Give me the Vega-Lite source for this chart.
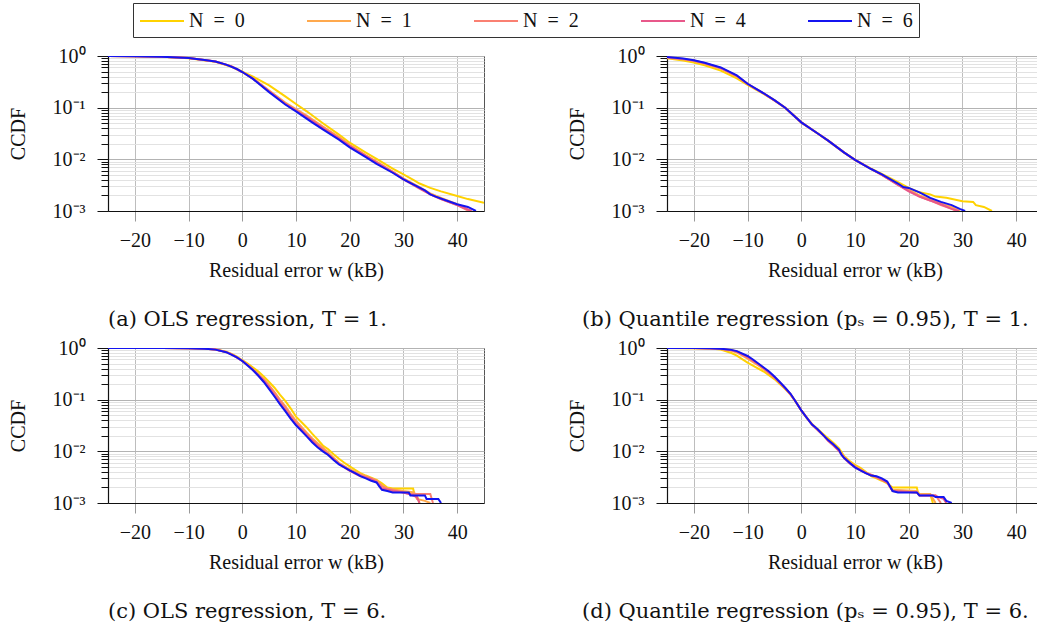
{
  "$schema": "https://vega.github.io/schema/vega-lite/v6.json",
  "padding": {"left": 7, "top": 2, "right": 0, "bottom": 0},
  "config": {
    "font": "Liberation Serif",
    "view": {"stroke": "#555", "strokeWidth": 1},
    "axis": {"labelFont": "Liberation Serif", "titleFont": "Liberation Serif", "labelColor": "#111", "titleColor": "#111"},
    "title": {"font": "DejaVu Serif", "fontSize": 21, "fontWeight": "normal", "color": "#111"}
  },
  "datasets": {
    "a": [
      {"N":"N = 0","x":-25,"y":0.998},{"N":"N = 0","x":-20,"y":0.99},{"N":"N = 0","x":-15,"y":0.965},{"N":"N = 0","x":-10,"y":0.9},{"N":"N = 0","x":-5,"y":0.77},{"N":"N = 0","x":-2,"y":0.62},{"N":"N = 0","x":0,"y":0.5},{"N":"N = 0","x":2,"y":0.4},{"N":"N = 0","x":5,"y":0.27},{"N":"N = 0","x":8,"y":0.165},{"N":"N = 0","x":10,"y":0.118},{"N":"N = 0","x":12,"y":0.085},{"N":"N = 0","x":15,"y":0.05},{"N":"N = 0","x":18,"y":0.03},{"N":"N = 0","x":20,"y":0.021},{"N":"N = 0","x":23,"y":0.0135},{"N":"N = 0","x":25,"y":0.0102},{"N":"N = 0","x":28,"y":0.0066},{"N":"N = 0","x":30,"y":0.0051},{"N":"N = 0","x":32,"y":0.0039},{"N":"N = 0","x":33,"y":0.0034},{"N":"N = 0","x":35,"y":0.0028},{"N":"N = 0","x":37,"y":0.0024},{"N":"N = 0","x":40,"y":0.00195},{"N":"N = 0","x":42,"y":0.0017},{"N":"N = 0","x":45,"y":0.00145},
      {"N":"N = 1","x":-25,"y":0.998},{"N":"N = 1","x":-20,"y":0.99},{"N":"N = 1","x":-15,"y":0.97},{"N":"N = 1","x":-10,"y":0.91},{"N":"N = 1","x":-5,"y":0.78},{"N":"N = 1","x":-2,"y":0.63},{"N":"N = 1","x":0,"y":0.49},{"N":"N = 1","x":2,"y":0.37},{"N":"N = 1","x":5,"y":0.215},{"N":"N = 1","x":8,"y":0.125},{"N":"N = 1","x":10,"y":0.094},{"N":"N = 1","x":12,"y":0.07},{"N":"N = 1","x":15,"y":0.043},{"N":"N = 1","x":18,"y":0.027},{"N":"N = 1","x":20,"y":0.019},{"N":"N = 1","x":23,"y":0.012},{"N":"N = 1","x":25,"y":0.009},{"N":"N = 1","x":28,"y":0.0058},{"N":"N = 1","x":30,"y":0.0043},{"N":"N = 1","x":33,"y":0.0029},{"N":"N = 1","x":35,"y":0.0022},{"N":"N = 1","x":37,"y":0.0018},{"N":"N = 1","x":40,"y":0.00135},{"N":"N = 1","x":42.5,"y":0.001},
      {"N":"N = 2","x":-25,"y":0.998},{"N":"N = 2","x":-20,"y":0.99},{"N":"N = 2","x":-15,"y":0.97},{"N":"N = 2","x":-10,"y":0.91},{"N":"N = 2","x":-5,"y":0.78},{"N":"N = 2","x":-2,"y":0.63},{"N":"N = 2","x":0,"y":0.49},{"N":"N = 2","x":2,"y":0.365},{"N":"N = 2","x":5,"y":0.21},{"N":"N = 2","x":8,"y":0.12},{"N":"N = 2","x":10,"y":0.09},{"N":"N = 2","x":12,"y":0.067},{"N":"N = 2","x":15,"y":0.042},{"N":"N = 2","x":18,"y":0.026},{"N":"N = 2","x":20,"y":0.0185},{"N":"N = 2","x":23,"y":0.0118},{"N":"N = 2","x":25,"y":0.0088},{"N":"N = 2","x":28,"y":0.0057},{"N":"N = 2","x":30,"y":0.0042},{"N":"N = 2","x":33,"y":0.0028},{"N":"N = 2","x":35,"y":0.0021},{"N":"N = 2","x":37,"y":0.0017},{"N":"N = 2","x":40,"y":0.0013},{"N":"N = 2","x":42.2,"y":0.001},
      {"N":"N = 4","x":-25,"y":0.998},{"N":"N = 4","x":-20,"y":0.99},{"N":"N = 4","x":-15,"y":0.97},{"N":"N = 4","x":-10,"y":0.91},{"N":"N = 4","x":-5,"y":0.78},{"N":"N = 4","x":-2,"y":0.63},{"N":"N = 4","x":0,"y":0.49},{"N":"N = 4","x":2,"y":0.362},{"N":"N = 4","x":5,"y":0.205},{"N":"N = 4","x":8,"y":0.118},{"N":"N = 4","x":10,"y":0.088},{"N":"N = 4","x":12,"y":0.065},{"N":"N = 4","x":15,"y":0.04},{"N":"N = 4","x":18,"y":0.025},{"N":"N = 4","x":20,"y":0.018},{"N":"N = 4","x":23,"y":0.0115},{"N":"N = 4","x":25,"y":0.0086},{"N":"N = 4","x":28,"y":0.0056},{"N":"N = 4","x":30,"y":0.0041},{"N":"N = 4","x":33,"y":0.0027},{"N":"N = 4","x":35,"y":0.0021},{"N":"N = 4","x":37,"y":0.0017},{"N":"N = 4","x":40,"y":0.0013},{"N":"N = 4","x":42.7,"y":0.001},
      {"N":"N = 6","x":-25,"y":0.998},{"N":"N = 6","x":-20,"y":0.99},{"N":"N = 6","x":-15,"y":0.97},{"N":"N = 6","x":-10,"y":0.91},{"N":"N = 6","x":-7,"y":0.84},{"N":"N = 6","x":-5,"y":0.78},{"N":"N = 6","x":-3,"y":0.68},{"N":"N = 6","x":-1,"y":0.56},{"N":"N = 6","x":0,"y":0.49},{"N":"N = 6","x":2,"y":0.36},{"N":"N = 6","x":5,"y":0.2},{"N":"N = 6","x":8,"y":0.115},{"N":"N = 6","x":10,"y":0.085},{"N":"N = 6","x":13,"y":0.052},{"N":"N = 6","x":15,"y":0.038},{"N":"N = 6","x":18,"y":0.024},{"N":"N = 6","x":20,"y":0.017},{"N":"N = 6","x":23,"y":0.011},{"N":"N = 6","x":25,"y":0.0082},{"N":"N = 6","x":28,"y":0.0055},{"N":"N = 6","x":30,"y":0.0041},{"N":"N = 6","x":32,"y":0.0032},{"N":"N = 6","x":34,"y":0.0025},{"N":"N = 6","x":35,"y":0.0021},{"N":"N = 6","x":36,"y":0.0019},{"N":"N = 6","x":38,"y":0.0016},{"N":"N = 6","x":40,"y":0.00135},{"N":"N = 6","x":42,"y":0.0012},{"N":"N = 6","x":43.5,"y":0.001}
    ],
    "b": [
      {"N":"N = 0","x":-25,"y":0.9},{"N":"N = 0","x":-22,"y":0.82},{"N":"N = 0","x":-20,"y":0.75},{"N":"N = 0","x":-18,"y":0.66},{"N":"N = 0","x":-15,"y":0.52},{"N":"N = 0","x":-12,"y":0.37},{"N":"N = 0","x":-10,"y":0.275},{"N":"N = 0","x":-7,"y":0.185},{"N":"N = 0","x":-5,"y":0.138},{"N":"N = 0","x":-3,"y":0.1},{"N":"N = 0","x":0,"y":0.052},{"N":"N = 0","x":3,"y":0.032},{"N":"N = 0","x":5,"y":0.023},{"N":"N = 0","x":8,"y":0.0135},{"N":"N = 0","x":10,"y":0.0098},{"N":"N = 0","x":13,"y":0.0066},{"N":"N = 0","x":15,"y":0.0052},{"N":"N = 0","x":18,"y":0.0036},{"N":"N = 0","x":20,"y":0.0028},{"N":"N = 0","x":22,"y":0.0023},{"N":"N = 0","x":24,"y":0.0021},{"N":"N = 0","x":25,"y":0.0019},{"N":"N = 0","x":27,"y":0.0018},{"N":"N = 0","x":30,"y":0.00155},{"N":"N = 0","x":32,"y":0.0015},{"N":"N = 0","x":32.5,"y":0.0013},{"N":"N = 0","x":34,"y":0.0012},{"N":"N = 0","x":35.5,"y":0.001},
      {"N":"N = 1","x":-25,"y":0.93},{"N":"N = 1","x":-22,"y":0.86},{"N":"N = 1","x":-20,"y":0.8},{"N":"N = 1","x":-18,"y":0.71},{"N":"N = 1","x":-15,"y":0.57},{"N":"N = 1","x":-12,"y":0.4},{"N":"N = 1","x":-10,"y":0.285},{"N":"N = 1","x":-7,"y":0.187},{"N":"N = 1","x":-5,"y":0.138},{"N":"N = 1","x":-3,"y":0.1},{"N":"N = 1","x":0,"y":0.052},{"N":"N = 1","x":3,"y":0.032},{"N":"N = 1","x":5,"y":0.023},{"N":"N = 1","x":8,"y":0.0135},{"N":"N = 1","x":10,"y":0.0098},{"N":"N = 1","x":13,"y":0.0065},{"N":"N = 1","x":15,"y":0.005},{"N":"N = 1","x":18,"y":0.0033},{"N":"N = 1","x":20,"y":0.0026},{"N":"N = 1","x":22,"y":0.002},{"N":"N = 1","x":24,"y":0.0017},{"N":"N = 1","x":26,"y":0.0014},{"N":"N = 1","x":28,"y":0.0012},{"N":"N = 1","x":29.5,"y":0.001},
      {"N":"N = 2","x":-25,"y":0.94},{"N":"N = 2","x":-22,"y":0.87},{"N":"N = 2","x":-20,"y":0.81},{"N":"N = 2","x":-18,"y":0.72},{"N":"N = 2","x":-15,"y":0.58},{"N":"N = 2","x":-12,"y":0.41},{"N":"N = 2","x":-10,"y":0.287},{"N":"N = 2","x":-7,"y":0.188},{"N":"N = 2","x":-5,"y":0.138},{"N":"N = 2","x":-3,"y":0.1},{"N":"N = 2","x":0,"y":0.052},{"N":"N = 2","x":3,"y":0.032},{"N":"N = 2","x":5,"y":0.023},{"N":"N = 2","x":8,"y":0.0135},{"N":"N = 2","x":10,"y":0.0098},{"N":"N = 2","x":13,"y":0.0065},{"N":"N = 2","x":15,"y":0.005},{"N":"N = 2","x":18,"y":0.0032},{"N":"N = 2","x":20,"y":0.0025},{"N":"N = 2","x":22,"y":0.0019},{"N":"N = 2","x":24,"y":0.0016},{"N":"N = 2","x":26,"y":0.0013},{"N":"N = 2","x":28,"y":0.0011},{"N":"N = 2","x":29,"y":0.001},
      {"N":"N = 4","x":-25,"y":0.95},{"N":"N = 4","x":-22,"y":0.88},{"N":"N = 4","x":-20,"y":0.82},{"N":"N = 4","x":-18,"y":0.73},{"N":"N = 4","x":-15,"y":0.59},{"N":"N = 4","x":-12,"y":0.415},{"N":"N = 4","x":-10,"y":0.29},{"N":"N = 4","x":-7,"y":0.189},{"N":"N = 4","x":-5,"y":0.138},{"N":"N = 4","x":-3,"y":0.1},{"N":"N = 4","x":0,"y":0.052},{"N":"N = 4","x":3,"y":0.032},{"N":"N = 4","x":5,"y":0.023},{"N":"N = 4","x":8,"y":0.0135},{"N":"N = 4","x":10,"y":0.0098},{"N":"N = 4","x":13,"y":0.0065},{"N":"N = 4","x":15,"y":0.005},{"N":"N = 4","x":18,"y":0.0032},{"N":"N = 4","x":20,"y":0.0024},{"N":"N = 4","x":22,"y":0.0019},{"N":"N = 4","x":24,"y":0.0016},{"N":"N = 4","x":26,"y":0.00135},{"N":"N = 4","x":28,"y":0.0011},{"N":"N = 4","x":29.3,"y":0.001},
      {"N":"N = 6","x":-25,"y":0.955},{"N":"N = 6","x":-22,"y":0.89},{"N":"N = 6","x":-20,"y":0.83},{"N":"N = 6","x":-18,"y":0.74},{"N":"N = 6","x":-15,"y":0.6},{"N":"N = 6","x":-12,"y":0.42},{"N":"N = 6","x":-10,"y":0.29},{"N":"N = 6","x":-7,"y":0.19},{"N":"N = 6","x":-5,"y":0.14},{"N":"N = 6","x":-3,"y":0.1},{"N":"N = 6","x":0,"y":0.052},{"N":"N = 6","x":3,"y":0.032},{"N":"N = 6","x":5,"y":0.023},{"N":"N = 6","x":8,"y":0.0135},{"N":"N = 6","x":10,"y":0.0098},{"N":"N = 6","x":13,"y":0.0065},{"N":"N = 6","x":15,"y":0.0051},{"N":"N = 6","x":18,"y":0.0034},{"N":"N = 6","x":19,"y":0.0029},{"N":"N = 6","x":20,"y":0.0028},{"N":"N = 6","x":22,"y":0.0023},{"N":"N = 6","x":24,"y":0.0018},{"N":"N = 6","x":26,"y":0.0015},{"N":"N = 6","x":28,"y":0.0013},{"N":"N = 6","x":29.5,"y":0.0011},{"N":"N = 6","x":30.5,"y":0.001}
    ],
    "c": [
      {"N":"N = 0","x":-25,"y":0.999},{"N":"N = 0","x":-15,"y":0.998},{"N":"N = 0","x":-10,"y":0.99},{"N":"N = 0","x":-7,"y":0.975},{"N":"N = 0","x":-5,"y":0.94},{"N":"N = 0","x":-3,"y":0.85},{"N":"N = 0","x":-2,"y":0.77},{"N":"N = 0","x":-1,"y":0.68},{"N":"N = 0","x":0,"y":0.58},{"N":"N = 0","x":1,"y":0.5},{"N":"N = 0","x":2,"y":0.42},{"N":"N = 0","x":3,"y":0.35},{"N":"N = 0","x":4,"y":0.28},{"N":"N = 0","x":5,"y":0.22},{"N":"N = 0","x":6,"y":0.17},{"N":"N = 0","x":7,"y":0.125},{"N":"N = 0","x":8,"y":0.095},{"N":"N = 0","x":9,"y":0.068},{"N":"N = 0","x":10,"y":0.047},{"N":"N = 0","x":11,"y":0.037},{"N":"N = 0","x":12,"y":0.029},{"N":"N = 0","x":13,"y":0.022},{"N":"N = 0","x":14,"y":0.017},{"N":"N = 0","x":15,"y":0.013},{"N":"N = 0","x":16,"y":0.011},{"N":"N = 0","x":17,"y":0.0088},{"N":"N = 0","x":18,"y":0.0072},{"N":"N = 0","x":19,"y":0.006},{"N":"N = 0","x":20,"y":0.0051},{"N":"N = 0","x":21,"y":0.0044},{"N":"N = 0","x":22,"y":0.0038},{"N":"N = 0","x":23,"y":0.0034},{"N":"N = 0","x":24,"y":0.0031},{"N":"N = 0","x":25,"y":0.0028},{"N":"N = 0","x":26,"y":0.0024},{"N":"N = 0","x":27,"y":0.002},{"N":"N = 0","x":28,"y":0.0019},{"N":"N = 0","x":31.8,"y":0.0019},{"N":"N = 0","x":32.1,"y":0.0014},{"N":"N = 0","x":32.6,"y":0.0013},{"N":"N = 0","x":33,"y":0.001},
      {"N":"N = 1","x":-25,"y":0.999},{"N":"N = 1","x":-15,"y":0.998},{"N":"N = 1","x":-10,"y":0.99},{"N":"N = 1","x":-7,"y":0.973},{"N":"N = 1","x":-5,"y":0.935},{"N":"N = 1","x":-3,"y":0.84},{"N":"N = 1","x":-2,"y":0.76},{"N":"N = 1","x":-1,"y":0.67},{"N":"N = 1","x":0,"y":0.57},{"N":"N = 1","x":1,"y":0.48},{"N":"N = 1","x":2,"y":0.39},{"N":"N = 1","x":3,"y":0.31},{"N":"N = 1","x":4,"y":0.25},{"N":"N = 1","x":5,"y":0.19},{"N":"N = 1","x":6,"y":0.14},{"N":"N = 1","x":7,"y":0.1},{"N":"N = 1","x":8,"y":0.075},{"N":"N = 1","x":9,"y":0.053},{"N":"N = 1","x":10,"y":0.039},{"N":"N = 1","x":11,"y":0.03},{"N":"N = 1","x":12,"y":0.023},{"N":"N = 1","x":13,"y":0.018},{"N":"N = 1","x":14,"y":0.0145},{"N":"N = 1","x":15,"y":0.0118},{"N":"N = 1","x":16,"y":0.0095},{"N":"N = 1","x":17,"y":0.0075},{"N":"N = 1","x":18,"y":0.006},{"N":"N = 1","x":19,"y":0.0052},{"N":"N = 1","x":20,"y":0.0045},{"N":"N = 1","x":22,"y":0.0036},{"N":"N = 1","x":24,"y":0.003},{"N":"N = 1","x":25,"y":0.0027},{"N":"N = 1","x":26,"y":0.0022},{"N":"N = 1","x":27,"y":0.0019},{"N":"N = 1","x":30,"y":0.0017},{"N":"N = 1","x":32,"y":0.0016},{"N":"N = 1","x":32.5,"y":0.0012},{"N":"N = 1","x":34,"y":0.0011},{"N":"N = 1","x":35,"y":0.001},
      {"N":"N = 2","x":-25,"y":0.999},{"N":"N = 2","x":-15,"y":0.998},{"N":"N = 2","x":-10,"y":0.99},{"N":"N = 2","x":-7,"y":0.972},{"N":"N = 2","x":-5,"y":0.933},{"N":"N = 2","x":-3,"y":0.835},{"N":"N = 2","x":-2,"y":0.75},{"N":"N = 2","x":-1,"y":0.66},{"N":"N = 2","x":0,"y":0.565},{"N":"N = 2","x":1,"y":0.47},{"N":"N = 2","x":2,"y":0.385},{"N":"N = 2","x":3,"y":0.305},{"N":"N = 2","x":4,"y":0.245},{"N":"N = 2","x":5,"y":0.185},{"N":"N = 2","x":6,"y":0.135},{"N":"N = 2","x":7,"y":0.097},{"N":"N = 2","x":8,"y":0.072},{"N":"N = 2","x":9,"y":0.05},{"N":"N = 2","x":10,"y":0.037},{"N":"N = 2","x":11,"y":0.028},{"N":"N = 2","x":12,"y":0.022},{"N":"N = 2","x":13,"y":0.017},{"N":"N = 2","x":14,"y":0.0135},{"N":"N = 2","x":15,"y":0.011},{"N":"N = 2","x":16,"y":0.009},{"N":"N = 2","x":17,"y":0.0072},{"N":"N = 2","x":18,"y":0.0058},{"N":"N = 2","x":19,"y":0.005},{"N":"N = 2","x":20,"y":0.0043},{"N":"N = 2","x":22,"y":0.0035},{"N":"N = 2","x":24,"y":0.003},{"N":"N = 2","x":25,"y":0.0027},{"N":"N = 2","x":26,"y":0.0021},{"N":"N = 2","x":27,"y":0.0019},{"N":"N = 2","x":30,"y":0.0016},{"N":"N = 2","x":31,"y":0.0015},{"N":"N = 2","x":35,"y":0.0015},{"N":"N = 2","x":35.5,"y":0.001},
      {"N":"N = 4","x":-25,"y":0.999},{"N":"N = 4","x":-15,"y":0.998},{"N":"N = 4","x":-10,"y":0.99},{"N":"N = 4","x":-7,"y":0.971},{"N":"N = 4","x":-5,"y":0.932},{"N":"N = 4","x":-3,"y":0.832},{"N":"N = 4","x":-2,"y":0.75},{"N":"N = 4","x":-1,"y":0.65},{"N":"N = 4","x":0,"y":0.56},{"N":"N = 4","x":1,"y":0.46},{"N":"N = 4","x":2,"y":0.375},{"N":"N = 4","x":3,"y":0.29},{"N":"N = 4","x":4,"y":0.23},{"N":"N = 4","x":5,"y":0.17},{"N":"N = 4","x":6,"y":0.12},{"N":"N = 4","x":7,"y":0.087},{"N":"N = 4","x":8,"y":0.063},{"N":"N = 4","x":9,"y":0.045},{"N":"N = 4","x":10,"y":0.033},{"N":"N = 4","x":11,"y":0.026},{"N":"N = 4","x":12,"y":0.02},{"N":"N = 4","x":13,"y":0.016},{"N":"N = 4","x":14,"y":0.0125},{"N":"N = 4","x":15,"y":0.0103},{"N":"N = 4","x":16,"y":0.0086},{"N":"N = 4","x":17,"y":0.007},{"N":"N = 4","x":18,"y":0.0057},{"N":"N = 4","x":19,"y":0.0049},{"N":"N = 4","x":20,"y":0.0042},{"N":"N = 4","x":22,"y":0.0033},{"N":"N = 4","x":24,"y":0.0029},{"N":"N = 4","x":25,"y":0.0025},{"N":"N = 4","x":26,"y":0.0019},{"N":"N = 4","x":28,"y":0.0017},{"N":"N = 4","x":30,"y":0.0016},{"N":"N = 4","x":31,"y":0.0015},{"N":"N = 4","x":32.5,"y":0.0013},{"N":"N = 4","x":33,"y":0.001},
      {"N":"N = 6","x":-25,"y":0.999},{"N":"N = 6","x":-15,"y":0.998},{"N":"N = 6","x":-10,"y":0.99},{"N":"N = 6","x":-7,"y":0.97},{"N":"N = 6","x":-5,"y":0.93},{"N":"N = 6","x":-3,"y":0.83},{"N":"N = 6","x":-1,"y":0.66},{"N":"N = 6","x":0,"y":0.56},{"N":"N = 6","x":1,"y":0.46},{"N":"N = 6","x":2,"y":0.37},{"N":"N = 6","x":3,"y":0.29},{"N":"N = 6","x":4,"y":0.22},{"N":"N = 6","x":5,"y":0.16},{"N":"N = 6","x":6,"y":0.115},{"N":"N = 6","x":7,"y":0.082},{"N":"N = 6","x":8,"y":0.06},{"N":"N = 6","x":9,"y":0.043},{"N":"N = 6","x":10,"y":0.032},{"N":"N = 6","x":11,"y":0.025},{"N":"N = 6","x":12,"y":0.0195},{"N":"N = 6","x":13,"y":0.015},{"N":"N = 6","x":14,"y":0.012},{"N":"N = 6","x":15,"y":0.01},{"N":"N = 6","x":16,"y":0.0085},{"N":"N = 6","x":17,"y":0.0068},{"N":"N = 6","x":18,"y":0.0056},{"N":"N = 6","x":19,"y":0.0049},{"N":"N = 6","x":20,"y":0.0043},{"N":"N = 6","x":21,"y":0.0038},{"N":"N = 6","x":22,"y":0.0033},{"N":"N = 6","x":23,"y":0.003},{"N":"N = 6","x":24,"y":0.0027},{"N":"N = 6","x":25,"y":0.0025},{"N":"N = 6","x":25.5,"y":0.0021},{"N":"N = 6","x":26,"y":0.0018},{"N":"N = 6","x":27,"y":0.0017},{"N":"N = 6","x":28,"y":0.0016},{"N":"N = 6","x":31,"y":0.0016},{"N":"N = 6","x":31.3,"y":0.0014},{"N":"N = 6","x":34,"y":0.0014},{"N":"N = 6","x":34.3,"y":0.0012},{"N":"N = 6","x":36.5,"y":0.0012},{"N":"N = 6","x":37,"y":0.001}
    ],
    "d": [
      {"N":"N = 0","x":-25,"y":0.998},{"N":"N = 0","x":-20,"y":0.99},{"N":"N = 0","x":-17,"y":0.975},{"N":"N = 0","x":-15,"y":0.93},{"N":"N = 0","x":-13,"y":0.8},{"N":"N = 0","x":-12,"y":0.71},{"N":"N = 0","x":-10,"y":0.52},{"N":"N = 0","x":-8,"y":0.4},{"N":"N = 0","x":-7,"y":0.35},{"N":"N = 0","x":-5,"y":0.25},{"N":"N = 0","x":-3,"y":0.16},{"N":"N = 0","x":-2,"y":0.125},{"N":"N = 0","x":-1,"y":0.09},{"N":"N = 0","x":0,"y":0.062},{"N":"N = 0","x":1,"y":0.045},{"N":"N = 0","x":2,"y":0.034},{"N":"N = 0","x":4,"y":0.022},{"N":"N = 0","x":6,"y":0.0145},{"N":"N = 0","x":7,"y":0.0115},{"N":"N = 0","x":8,"y":0.008},{"N":"N = 0","x":9,"y":0.0065},{"N":"N = 0","x":10,"y":0.0055},{"N":"N = 0","x":11,"y":0.0048},{"N":"N = 0","x":12,"y":0.004},{"N":"N = 0","x":13,"y":0.0033},{"N":"N = 0","x":14,"y":0.003},{"N":"N = 0","x":15,"y":0.0027},{"N":"N = 0","x":16,"y":0.0024},{"N":"N = 0","x":17,"y":0.002},{"N":"N = 0","x":21.5,"y":0.002},{"N":"N = 0","x":21.8,"y":0.0015},{"N":"N = 0","x":24,"y":0.0015},{"N":"N = 0","x":24.5,"y":0.001},
      {"N":"N = 1","x":-25,"y":0.998},{"N":"N = 1","x":-20,"y":0.993},{"N":"N = 1","x":-17,"y":0.98},{"N":"N = 1","x":-15,"y":0.955},{"N":"N = 1","x":-13,"y":0.88},{"N":"N = 1","x":-12,"y":0.82},{"N":"N = 1","x":-10,"y":0.62},{"N":"N = 1","x":-8,"y":0.46},{"N":"N = 1","x":-7,"y":0.39},{"N":"N = 1","x":-5,"y":0.265},{"N":"N = 1","x":-3,"y":0.165},{"N":"N = 1","x":-2,"y":0.125},{"N":"N = 1","x":-1,"y":0.09},{"N":"N = 1","x":0,"y":0.062},{"N":"N = 1","x":1,"y":0.045},{"N":"N = 1","x":2,"y":0.033},{"N":"N = 1","x":4,"y":0.021},{"N":"N = 1","x":5,"y":0.0165},{"N":"N = 1","x":6,"y":0.0135},{"N":"N = 1","x":7,"y":0.0105},{"N":"N = 1","x":8,"y":0.0078},{"N":"N = 1","x":9,"y":0.0062},{"N":"N = 1","x":10,"y":0.0052},{"N":"N = 1","x":12,"y":0.0039},{"N":"N = 1","x":14,"y":0.0032},{"N":"N = 1","x":16,"y":0.0025},{"N":"N = 1","x":17,"y":0.0018},{"N":"N = 1","x":21.5,"y":0.0017},{"N":"N = 1","x":22,"y":0.0015},{"N":"N = 1","x":24,"y":0.0015},{"N":"N = 1","x":25,"y":0.001},
      {"N":"N = 2","x":-25,"y":0.998},{"N":"N = 2","x":-20,"y":0.995},{"N":"N = 2","x":-17,"y":0.983},{"N":"N = 2","x":-15,"y":0.96},{"N":"N = 2","x":-13,"y":0.9},{"N":"N = 2","x":-12,"y":0.84},{"N":"N = 2","x":-10,"y":0.65},{"N":"N = 2","x":-8,"y":0.48},{"N":"N = 2","x":-7,"y":0.4},{"N":"N = 2","x":-5,"y":0.27},{"N":"N = 2","x":-3,"y":0.167},{"N":"N = 2","x":-2,"y":0.127},{"N":"N = 2","x":-1,"y":0.09},{"N":"N = 2","x":0,"y":0.062},{"N":"N = 2","x":1,"y":0.045},{"N":"N = 2","x":2,"y":0.033},{"N":"N = 2","x":4,"y":0.021},{"N":"N = 2","x":5,"y":0.016},{"N":"N = 2","x":6,"y":0.013},{"N":"N = 2","x":7,"y":0.0103},{"N":"N = 2","x":8,"y":0.0075},{"N":"N = 2","x":9,"y":0.006},{"N":"N = 2","x":10,"y":0.005},{"N":"N = 2","x":12,"y":0.0038},{"N":"N = 2","x":14,"y":0.0031},{"N":"N = 2","x":16,"y":0.0025},{"N":"N = 2","x":17,"y":0.0017},{"N":"N = 2","x":21.5,"y":0.0016},{"N":"N = 2","x":22,"y":0.0014},{"N":"N = 2","x":25,"y":0.0014},{"N":"N = 2","x":26,"y":0.001},
      {"N":"N = 4","x":-25,"y":0.998},{"N":"N = 4","x":-20,"y":0.996},{"N":"N = 4","x":-17,"y":0.985},{"N":"N = 4","x":-15,"y":0.965},{"N":"N = 4","x":-13,"y":0.91},{"N":"N = 4","x":-12,"y":0.855},{"N":"N = 4","x":-10,"y":0.68},{"N":"N = 4","x":-8,"y":0.49},{"N":"N = 4","x":-7,"y":0.41},{"N":"N = 4","x":-5,"y":0.275},{"N":"N = 4","x":-3,"y":0.168},{"N":"N = 4","x":-2,"y":0.128},{"N":"N = 4","x":-1,"y":0.09},{"N":"N = 4","x":0,"y":0.062},{"N":"N = 4","x":1,"y":0.045},{"N":"N = 4","x":2,"y":0.033},{"N":"N = 4","x":4,"y":0.021},{"N":"N = 4","x":5,"y":0.016},{"N":"N = 4","x":6,"y":0.013},{"N":"N = 4","x":7,"y":0.0102},{"N":"N = 4","x":8,"y":0.0073},{"N":"N = 4","x":9,"y":0.0058},{"N":"N = 4","x":10,"y":0.0049},{"N":"N = 4","x":12,"y":0.0038},{"N":"N = 4","x":14,"y":0.0032},{"N":"N = 4","x":16,"y":0.0025},{"N":"N = 4","x":17,"y":0.0017},{"N":"N = 4","x":21.5,"y":0.0016},{"N":"N = 4","x":22,"y":0.0014},{"N":"N = 4","x":25,"y":0.0014},{"N":"N = 4","x":25.5,"y":0.0013},{"N":"N = 4","x":26.5,"y":0.0012},{"N":"N = 4","x":27,"y":0.001},
      {"N":"N = 6","x":-25,"y":0.998},{"N":"N = 6","x":-20,"y":0.997},{"N":"N = 6","x":-17,"y":0.99},{"N":"N = 6","x":-15,"y":0.97},{"N":"N = 6","x":-13,"y":0.92},{"N":"N = 6","x":-12,"y":0.87},{"N":"N = 6","x":-10,"y":0.7},{"N":"N = 6","x":-9,"y":0.6},{"N":"N = 6","x":-8,"y":0.5},{"N":"N = 6","x":-7,"y":0.42},{"N":"N = 6","x":-6,"y":0.35},{"N":"N = 6","x":-5,"y":0.28},{"N":"N = 6","x":-4,"y":0.22},{"N":"N = 6","x":-3,"y":0.17},{"N":"N = 6","x":-2,"y":0.13},{"N":"N = 6","x":-1,"y":0.09},{"N":"N = 6","x":0,"y":0.062},{"N":"N = 6","x":1,"y":0.045},{"N":"N = 6","x":2,"y":0.033},{"N":"N = 6","x":3,"y":0.027},{"N":"N = 6","x":4,"y":0.021},{"N":"N = 6","x":5,"y":0.0165},{"N":"N = 6","x":6,"y":0.0135},{"N":"N = 6","x":7,"y":0.0108},{"N":"N = 6","x":7.5,"y":0.0085},{"N":"N = 6","x":8,"y":0.0074},{"N":"N = 6","x":9,"y":0.006},{"N":"N = 6","x":10,"y":0.0049},{"N":"N = 6","x":11,"y":0.0043},{"N":"N = 6","x":12,"y":0.0038},{"N":"N = 6","x":13,"y":0.0034},{"N":"N = 6","x":14,"y":0.0033},{"N":"N = 6","x":15,"y":0.003},{"N":"N = 6","x":16,"y":0.0026},{"N":"N = 6","x":16.5,"y":0.0021},{"N":"N = 6","x":17,"y":0.0017},{"N":"N = 6","x":18,"y":0.0016},{"N":"N = 6","x":21.5,"y":0.0016},{"N":"N = 6","x":22,"y":0.0014},{"N":"N = 6","x":24.5,"y":0.0014},{"N":"N = 6","x":25,"y":0.0013},{"N":"N = 6","x":26.5,"y":0.0013},{"N":"N = 6","x":27,"y":0.0011},{"N":"N = 6","x":28,"y":0.001}
    ]
  },
  "vconcat": [
    {
      "spacing": 81,
      "hconcat": [
        {
          "width": 376, "height": 155,
          "data": {"name": "a"},
          "title": {"text": "(a) OLS regression, T = 1.", "orient": "bottom", "anchor": "start", "frame": "group", "offset": 29, "dx": 0},
          "mark": {"type": "line", "strokeWidth": 2, "clip": true},
          "encoding": {
            "x": {"field": "x", "type": "quantitative", "scale": {"domain": [-25, 45], "nice": false, "zero": false},
              "axis": {"title": "Residual error w (kB)", "values": [-20, -10, 0, 10, 20, 30, 40], "labelFontSize": 20, "titleFontSize": 20, "titleFontWeight": "normal", "tickSize": 10, "tickColor": "#999", "gridColor": "#bdbdbd", "domainColor": "#111", "domainWidth": 1.2, "labelPadding": 9, "titlePadding": 10}},
            "y": {"field": "y", "type": "quantitative", "scale": {"type": "log", "domain": [0.001, 1], "nice": false},
              "axis": {"title": "CCDF", "values": [0.001,0.002,0.003,0.004,0.005,0.006,0.007,0.008,0.009,0.01,0.02,0.03,0.04,0.05,0.06,0.07,0.08,0.09,0.1,0.2,0.3,0.4,0.5,0.6,0.7,0.8,0.9,1],
                "labelExpr": "datum.value == 1 ? '10⁰' : datum.value == 0.1 ? '10⁻¹' : datum.value == 0.01 ? '10⁻²' : datum.value == 0.001 ? '10⁻³' : ''",
                "labelOverlap": false, "labelFlush": false, "labelFontSize": 20, "labelPadding": 12, "titleFontSize": 20, "titleFontWeight": "normal", "titlePadding": 24,
                "tickColor": "#111", "domainColor": "#111", "domainWidth": 1.2,
                "tickSize": {"condition": {"test": "datum.value == 1 || datum.value == 0.1 || datum.value == 0.01 || datum.value == 0.001", "value": 11}, "value": 7},
                "gridColor": {"condition": {"test": "datum.value == 1 || datum.value == 0.1 || datum.value == 0.01 || datum.value == 0.001", "value": "#b3b3b3"}, "value": "#e2e2e2"}}},
            "color": {"field": "N", "type": "nominal",
              "scale": {"domain": ["N = 0", "N = 1", "N = 2", "N = 4", "N = 6"], "range": ["#FFD200", "#FFA94D", "#FA8072", "#E8588A", "#1414F0"]},
              "legend": {"orient": "none", "legendX": 25, "legendY": -53, "direction": "horizontal", "columns": 5, "title": null,
                "symbolType": "M-1,0H3", "symbolSize": 484, "symbolStrokeWidth": 2, "labelFontSize": 20, "labelFont": "Liberation Serif", "labelColor": "#111",
                "labelExpr": "replace(datum.label, ' = ', '\u2002=\u2002')",
                "labelOffset": 26, "columnPadding": 58, "strokeColor": "#333", "padding": 6, "labelLimit": 0}}
          }
        },
        {
          "width": 376, "height": 155,
          "data": {"name": "b"},
          "title": {"text": "(b) Quantile regression (pₛ = 0.95), T = 1.", "orient": "bottom", "anchor": "start", "frame": "group", "offset": 29, "dx": -85},
          "mark": {"type": "line", "strokeWidth": 2, "clip": true},
          "encoding": {
            "x": {"field": "x", "type": "quantitative", "scale": {"domain": [-25, 45], "nice": false, "zero": false},
              "axis": {"title": "Residual error w (kB)", "values": [-20, -10, 0, 10, 20, 30, 40], "labelFontSize": 20, "titleFontSize": 20, "titleFontWeight": "normal", "tickSize": 10, "tickColor": "#999", "gridColor": "#bdbdbd", "domainColor": "#111", "domainWidth": 1.2, "labelPadding": 9, "titlePadding": 10}},
            "y": {"field": "y", "type": "quantitative", "scale": {"type": "log", "domain": [0.001, 1], "nice": false},
              "axis": {"title": "CCDF", "values": [0.001,0.002,0.003,0.004,0.005,0.006,0.007,0.008,0.009,0.01,0.02,0.03,0.04,0.05,0.06,0.07,0.08,0.09,0.1,0.2,0.3,0.4,0.5,0.6,0.7,0.8,0.9,1],
                "labelExpr": "datum.value == 1 ? '10⁰' : datum.value == 0.1 ? '10⁻¹' : datum.value == 0.01 ? '10⁻²' : datum.value == 0.001 ? '10⁻³' : ''",
                "labelOverlap": false, "labelFlush": false, "labelFontSize": 20, "labelPadding": 12, "titleFontSize": 20, "titleFontWeight": "normal", "titlePadding": 24,
                "tickColor": "#111", "domainColor": "#111", "domainWidth": 1.2,
                "tickSize": {"condition": {"test": "datum.value == 1 || datum.value == 0.1 || datum.value == 0.01 || datum.value == 0.001", "value": 11}, "value": 7},
                "gridColor": {"condition": {"test": "datum.value == 1 || datum.value == 0.1 || datum.value == 0.01 || datum.value == 0.001", "value": "#b3b3b3"}, "value": "#e2e2e2"}}},
            "color": {"field": "N", "type": "nominal",
              "scale": {"domain": ["N = 0", "N = 1", "N = 2", "N = 4", "N = 6"], "range": ["#FFD200", "#FFA94D", "#FA8072", "#E8588A", "#1414F0"]}}
          }
        }
      ]
    },
    {
      "spacing": 81,
      "hconcat": [
        {
          "width": 376, "height": 155,
          "data": {"name": "c"},
          "title": {"text": "(c) OLS regression, T = 6.", "orient": "bottom", "anchor": "start", "frame": "group", "offset": 29, "dx": 0},
          "mark": {"type": "line", "strokeWidth": 2, "clip": true},
          "encoding": {
            "x": {"field": "x", "type": "quantitative", "scale": {"domain": [-25, 45], "nice": false, "zero": false},
              "axis": {"title": "Residual error w (kB)", "values": [-20, -10, 0, 10, 20, 30, 40], "labelFontSize": 20, "titleFontSize": 20, "titleFontWeight": "normal", "tickSize": 10, "tickColor": "#999", "gridColor": "#bdbdbd", "domainColor": "#111", "domainWidth": 1.2, "labelPadding": 9, "titlePadding": 10}},
            "y": {"field": "y", "type": "quantitative", "scale": {"type": "log", "domain": [0.001, 1], "nice": false},
              "axis": {"title": "CCDF", "values": [0.001,0.002,0.003,0.004,0.005,0.006,0.007,0.008,0.009,0.01,0.02,0.03,0.04,0.05,0.06,0.07,0.08,0.09,0.1,0.2,0.3,0.4,0.5,0.6,0.7,0.8,0.9,1],
                "labelExpr": "datum.value == 1 ? '10⁰' : datum.value == 0.1 ? '10⁻¹' : datum.value == 0.01 ? '10⁻²' : datum.value == 0.001 ? '10⁻³' : ''",
                "labelOverlap": false, "labelFlush": false, "labelFontSize": 20, "labelPadding": 12, "titleFontSize": 20, "titleFontWeight": "normal", "titlePadding": 24,
                "tickColor": "#111", "domainColor": "#111", "domainWidth": 1.2,
                "tickSize": {"condition": {"test": "datum.value == 1 || datum.value == 0.1 || datum.value == 0.01 || datum.value == 0.001", "value": 11}, "value": 7},
                "gridColor": {"condition": {"test": "datum.value == 1 || datum.value == 0.1 || datum.value == 0.01 || datum.value == 0.001", "value": "#b3b3b3"}, "value": "#e2e2e2"}}},
            "color": {"field": "N", "type": "nominal",
              "scale": {"domain": ["N = 0", "N = 1", "N = 2", "N = 4", "N = 6"], "range": ["#FFD200", "#FFA94D", "#FA8072", "#E8588A", "#1414F0"]}}
          }
        },
        {
          "width": 376, "height": 155,
          "data": {"name": "d"},
          "title": {"text": "(d) Quantile regression (pₛ = 0.95), T = 6.", "orient": "bottom", "anchor": "start", "frame": "group", "offset": 29, "dx": -85},
          "mark": {"type": "line", "strokeWidth": 2, "clip": true},
          "encoding": {
            "x": {"field": "x", "type": "quantitative", "scale": {"domain": [-25, 45], "nice": false, "zero": false},
              "axis": {"title": "Residual error w (kB)", "values": [-20, -10, 0, 10, 20, 30, 40], "labelFontSize": 20, "titleFontSize": 20, "titleFontWeight": "normal", "tickSize": 10, "tickColor": "#999", "gridColor": "#bdbdbd", "domainColor": "#111", "domainWidth": 1.2, "labelPadding": 9, "titlePadding": 10}},
            "y": {"field": "y", "type": "quantitative", "scale": {"type": "log", "domain": [0.001, 1], "nice": false},
              "axis": {"title": "CCDF", "values": [0.001,0.002,0.003,0.004,0.005,0.006,0.007,0.008,0.009,0.01,0.02,0.03,0.04,0.05,0.06,0.07,0.08,0.09,0.1,0.2,0.3,0.4,0.5,0.6,0.7,0.8,0.9,1],
                "labelExpr": "datum.value == 1 ? '10⁰' : datum.value == 0.1 ? '10⁻¹' : datum.value == 0.01 ? '10⁻²' : datum.value == 0.001 ? '10⁻³' : ''",
                "labelOverlap": false, "labelFlush": false, "labelFontSize": 20, "labelPadding": 12, "titleFontSize": 20, "titleFontWeight": "normal", "titlePadding": 24,
                "tickColor": "#111", "domainColor": "#111", "domainWidth": 1.2,
                "tickSize": {"condition": {"test": "datum.value == 1 || datum.value == 0.1 || datum.value == 0.01 || datum.value == 0.001", "value": 11}, "value": 7},
                "gridColor": {"condition": {"test": "datum.value == 1 || datum.value == 0.1 || datum.value == 0.01 || datum.value == 0.001", "value": "#b3b3b3"}, "value": "#e2e2e2"}}},
            "color": {"field": "N", "type": "nominal",
              "scale": {"domain": ["N = 0", "N = 1", "N = 2", "N = 4", "N = 6"], "range": ["#FFD200", "#FFA94D", "#FA8072", "#E8588A", "#1414F0"]}}
          }
        }
      ]
    }
  ],
  "spacing": 6,
  "resolve": {"scale": {"color": "shared"}}
}
